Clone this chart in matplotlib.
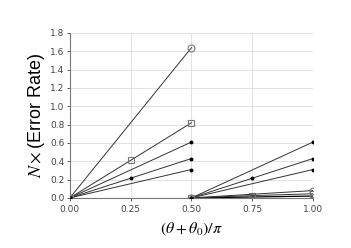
import matplotlib
matplotlib.use("Agg")
import matplotlib.pyplot as plt

plt.rcParams["mathtext.fontset"] = "stix"
plt.rcParams["font.family"] = ["Liberation Sans", "DejaVu Sans"]

# left group: theta from 0 to 0.5
circle_left_x = [0.0, 0.5]
circle_left_y = [0.0, 1.64]
square_left_x = [0.0, 0.25, 0.5]
square_left_y = [0.0, 0.41, 0.82]
dot_left_x = [[0.0, 0.5], [0.0, 0.25, 0.5], [0.0, 0.5]]
dot_left_y = [[0.0, 0.61], [0.0, 0.215, 0.43], [0.0, 0.31]]

# right group: theta from 0.5 to 1.0
circle_right_x = [0.5, 1.0]
circle_right_y = [0.0, 0.08]
square_right_x = [0.5, 0.75, 1.0]
square_right_y = [0.0, 0.025, 0.045]
plain_right_x = [0.5, 1.0]
plain_right_y = [0.0, 0.02]
dot_right_x = [[0.5, 1.0], [0.5, 0.75, 1.0], [0.5, 1.0]]
dot_right_y = [[0.0, 0.61], [0.0, 0.215, 0.43], [0.0, 0.31]]

xticks = [0.0, 0.25, 0.5, 0.75, 1.0]
yticks = [0.0, 0.2, 0.4, 0.6, 0.8, 1.0, 1.2, 1.4, 1.6, 1.8]

line_color = "#333333"
marker_edge = "#777777"

fig = plt.figure(figsize=(3.51, 2.48), dpi=100)
ax = fig.add_axes([0.199, 0.202, 0.693, 0.665])

for xs, ys in zip(dot_left_x + dot_right_x, dot_left_y + dot_right_y):
    ax.plot(xs, ys, color=line_color, lw=0.7, marker="o", ms=1.8,
            mfc="black", mec="black", zorder=3)

ax.plot(plain_right_x, plain_right_y, color="black", lw=0.9, zorder=3)

for xs, ys in [(square_left_x, square_left_y), (square_right_x, square_right_y)]:
    ax.plot(xs, ys, color=line_color, lw=0.7, marker="s", ms=5,
            mfc="none", mec=marker_edge, mew=0.8, zorder=4)

for xs, ys in [(circle_left_x, circle_left_y), (circle_right_x, circle_right_y)]:
    ax.plot(xs, ys, color=line_color, lw=0.7, marker="o", ms=5,
            mfc="none", mec=marker_edge, mew=0.8, zorder=4)

ax.set_xlim(0, 1)
ax.set_ylim(0, 1.8)
ax.set_xticks(xticks)
ax.set_yticks(yticks)
ax.set_xticklabels(["%.2f" % v for v in xticks], family="DejaVu Sans")
ax.set_yticklabels(["%.1f" % v for v in yticks], family="DejaVu Sans")
ax.tick_params(labelsize=6.5, colors="#444444", length=2, width=0.6, pad=2)
ax.tick_params(axis="x", pad=3)

ax.grid(True, color="#dddddd", lw=0.6)
ax.set_axisbelow(True)
for side in ["top", "right"]:
    ax.spines[side].set_visible(False)
for side in ["left", "bottom"]:
    ax.spines[side].set_color("#777777")
    ax.spines[side].set_linewidth(0.8)

ax.set_ylabel(r"$N\times$(Error Rate)", fontsize=13, labelpad=2)
ax.set_xlabel(r"$\left(\theta+\theta_0\right)/\pi$", fontsize=11.5, labelpad=5)

fig.savefig("out.png", dpi=100)
